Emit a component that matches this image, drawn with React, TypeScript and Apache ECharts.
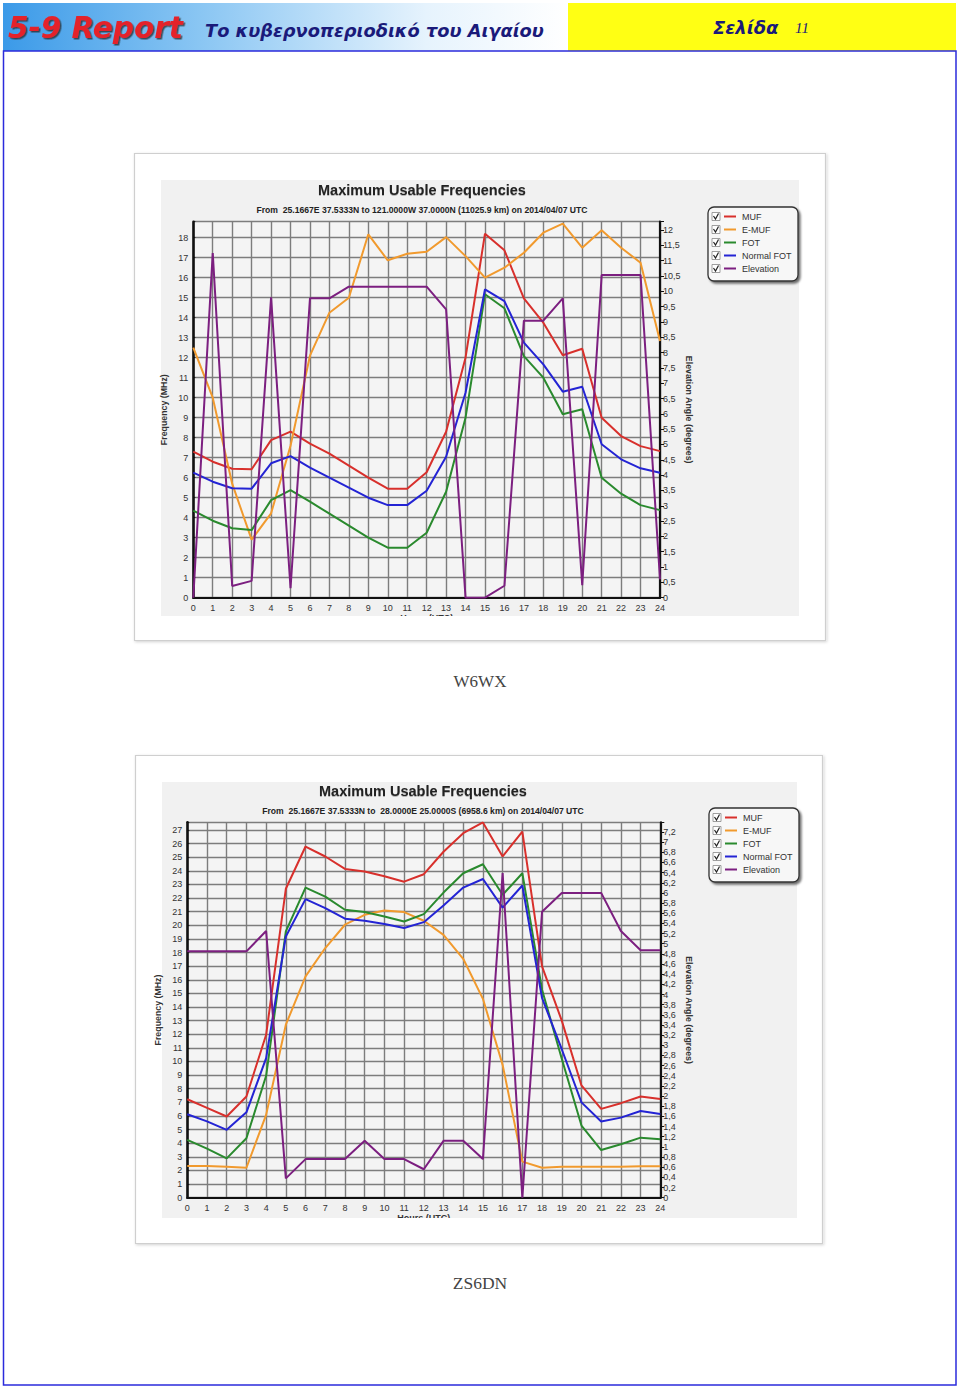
import React, { useEffect, useRef } from "react";
import * as echarts from "echarts";

// ---------- DATA ----------
const hours = [0, 1, 2, 3, 4, 5, 6, 7, 8, 9, 10, 11, 12, 13, 14, 15, 16, 17, 18, 19, 20, 21, 22, 23, 24];

// Chart 1: W6WX
const w6wxMuf = [7.3, 6.8, 6.45, 6.42, 7.88, 8.3, 7.7, 7.2, 6.6, 6.0, 5.45, 5.45, 6.27, 8.3, 12.0, 18.2, 17.37, 14.97, 13.75, 12.12, 12.45, 9.0, 8.08, 7.58, 7.33];
const w6wxEmuf = [12.5, 10.0, 5.7, 2.9, 4.22, 7.6, 12.1, 14.25, 15.0, 18.17, 16.87, 17.2, 17.3, 18.03, 17.08, 16.0, 16.5, 17.25, 18.25, 18.7, 17.5, 18.37, 17.5, 16.75, 12.83];
const w6wxFot = [4.35, 3.85, 3.47, 3.38, 4.88, 5.38, 4.8, 4.2, 3.6, 3.0, 2.5, 2.5, 3.25, 5.3, 9.0, 15.17, 14.47, 12.08, 11.0, 9.17, 9.42, 6.0, 5.2, 4.63, 4.38];
const w6wxNfot = [6.25, 5.8, 5.47, 5.45, 6.72, 7.08, 6.5, 6.0, 5.5, 5.0, 4.63, 4.63, 5.35, 7.05, 10.25, 15.42, 14.83, 12.75, 11.67, 10.3, 10.55, 7.67, 6.92, 6.47, 6.25];
const w6wxElev = [0, 11.25, 0.38, 0.55, 9.8, 0.31, 9.77, 9.77, 10.15, 10.15, 10.15, 10.15, 10.15, 9.41, 0, 0, 0.39, 9.04, 9.04, 9.77, 0.41, 10.53, 10.53, 10.53, 0.6];

// Chart 2: ZS6DN
const zs6dnMuf = [7.23, 6.6, 5.96, 7.43, 11.96, 22.68, 25.78, 25.05, 24.14, 23.95, 23.6, 23.2, 23.75, 25.4, 26.76, 27.55, 25.05, 26.88, 16.98, 13.0, 8.24, 6.52, 6.94, 7.43, 7.25];
const zs6dnEmuf = [2.33, 2.33, 2.28, 2.2, 6.08, 12.7, 16.25, 18.33, 20.04, 20.77, 21.09, 20.97, 20.33, 19.3, 17.54, 14.6, 9.75, 2.65, 2.2, 2.28, 2.28, 2.28, 2.28, 2.3, 2.3];
const zs6dnFot = [4.24, 3.6, 2.89, 4.36, 8.95, 19.55, 22.77, 22.1, 21.14, 20.97, 20.65, 20.28, 20.82, 22.4, 23.82, 24.48, 22.24, 23.82, 15.27, 10.2, 5.3, 3.5, 3.92, 4.41, 4.29];
const zs6dnNfot = [6.13, 5.6, 4.98, 6.27, 10.25, 19.18, 21.92, 21.26, 20.48, 20.33, 20.09, 19.8, 20.23, 21.45, 22.77, 23.4, 21.3, 22.92, 14.66, 10.9, 7.0, 5.59, 5.88, 6.37, 6.15];
const zs6dnElev = [4.85, 4.85, 4.85, 4.85, 5.25, 0.38, 0.76, 0.76, 0.76, 1.12, 0.76, 0.76, 0.56, 1.12, 1.12, 0.76, 6.39, 0, 5.63, 6.0, 6.0, 6.0, 5.25, 4.87, 4.87];

const seriesNames = ["MUF", "E-MUF", "FOT", "Normal FOT", "Elevation"];
const seriesColors = ["#d8302c", "#f19a2e", "#2a8a2e", "#2424d4", "#7c1f80"];

const chart1Title = "Maximum Usable Frequencies";
const chart1Sub = "From  25.1667E 37.5333N to 121.0000W 37.0000N (11025.9 km) on 2014/04/07 UTC";
const chart2Sub = "From  25.1667E 37.5333N to  28.0000E 25.0000S (6958.6 km) on 2014/04/07 UTC";

const FONT = "Liberation Sans, Arial, Helvetica, sans-serif";

function commaFmt(step: number) {
  return (v: number) => {
    const r = Math.round(v / step) * step;
    if (Math.abs(r - v) > 1e-6) return "";
    return String(Number(r.toFixed(2))).replace(".", ",");
  };
}

function legendGroup(x: number, y: number) {
  const children: any[] = [
    {
      type: "rect",
      shape: { x, y, width: 90, height: 74, r: 6 },
      style: {
        fill: "#f7f7f7",
        stroke: "#333",
        lineWidth: 1.3,
        shadowBlur: 2,
        shadowOffsetX: 2,
        shadowOffsetY: 2,
        shadowColor: "rgba(0,0,0,0.55)",
      },
    },
  ];
  seriesNames.forEach((name, i) => {
    const cy = y + 9.5 + i * 13;
    children.push({
      type: "rect",
      shape: { x: x + 4, y: cy - 4, width: 8, height: 8 },
      style: { fill: "#fff", stroke: "#888", lineWidth: 0.8 },
    });
    children.push({
      type: "polyline",
      shape: { points: [[x + 5.5, cy - 0.5], [x + 7.5, cy + 2.5], [x + 10.5, cy - 3]] },
      style: { stroke: "#222", lineWidth: 1.2, fill: "none" },
    });
    children.push({
      type: "line",
      shape: { x1: x + 16, y1: cy, x2: x + 28, y2: cy },
      style: { stroke: seriesColors[i], lineWidth: 2 },
    });
    children.push({
      type: "text",
      style: { text: name, x: x + 34, y: cy, verticalAlign: "middle", fontSize: 9, fontFamily: FONT, fill: "#333" },
    });
  });
  return { type: "group", children };
}

function makeSeries(gridIdx: number, arrs: number[][]) {
  return arrs.map((arr, i) => ({
    name: seriesNames[i] + (gridIdx === 0 ? "" : " "),
    type: "line",
    xAxisIndex: gridIdx,
    yAxisIndex: gridIdx * 2 + (i === 4 ? 1 : 0),
    data: hours.map((h, k) => [h, arr[k]]),
    showSymbol: false,
    symbol: "none",
    lineStyle: { color: seriesColors[i], width: 2 },
    itemStyle: { color: seriesColors[i] },
    z: 3,
  }));
}

const gridLine = { show: true, lineStyle: { color: "#7d7d7d", width: 1.4 } };
const labelStyle = { fontSize: 9, color: "#333", fontFamily: FONT };
const nameStyle = { fontSize: 8.8, fontWeight: "bold", color: "#333", fontFamily: FONT };

function xAxisCfg(gridIndex: number) {
  return {
    type: "value",
    gridIndex,
    min: 0,
    max: 24,
    interval: 1,
    axisLine: { show: true, lineStyle: { color: "#111", width: 2.2 } },
    axisTick: { show: false },
    splitLine: gridLine,
    axisLabel: { ...labelStyle, margin: 6 },
    name: "Hours (UTC)",
    nameLocation: "middle",
    nameGap: 16,
    nameTextStyle: { ...nameStyle, fontSize: 9 },
  };
}

function leftAxisCfg(gridIndex: number, max: number) {
  return {
    type: "value",
    gridIndex,
    position: "left",
    min: 0,
    max,
    interval: 1,
    axisLine: { show: true, lineStyle: { color: "#111", width: 2.6 } },
    axisTick: { show: true, inside: true, length: 2, lineStyle: { color: "#111" } },
    splitLine: gridLine,
    axisLabel: { ...labelStyle, margin: 5, formatter: (v: number) => (Math.abs(v - Math.round(v)) > 1e-6 ? "" : String(Math.round(v))) },
    name: "Frequency (MHz)",
    nameLocation: "middle",
    nameRotate: 90,
    nameGap: 25,
    nameTextStyle: nameStyle,
  };
}

function rightAxisCfg(gridIndex: number, max: number, step: number) {
  return {
    type: "value",
    gridIndex,
    position: "right",
    min: 0,
    max,
    interval: step,
    axisLine: { show: true, lineStyle: { color: "#111", width: 2.2 } },
    axisTick: { show: true, length: 4, lineStyle: { color: "#111" } },
    splitLine: { show: false },
    axisLabel: { ...labelStyle, margin: 3, formatter: commaFmt(step) },
    name: "Elevation Angle (degrees)",
    nameLocation: "middle",
    nameRotate: -90,
    nameGap: 24,
    nameTextStyle: nameStyle,
  };
}

function headerGraphics() {
  return [
    {
      type: "rect",
      z: -20,
      shape: { x: 3, y: 3, width: 565, height: 48 },
      style: {
        fill: {
          type: "linear",
          x: 0, y: 0, x2: 1, y2: 0,
          colorStops: [
            { offset: 0, color: "#3b9ae8" },
            { offset: 0.35, color: "#8ac6f3" },
            { offset: 0.75, color: "#e6f3fd" },
            { offset: 1, color: "#ffffff" },
          ],
        },
      },
    },
    { type: "rect", z: -20, shape: { x: 568, y: 3, width: 388, height: 48 }, style: { fill: "#ffff14" } },
    {
      type: "text",
      style: {
        text: "5-9 Report", x: 8, y: 28, verticalAlign: "middle",
        fontSize: 29.5, fontWeight: "bold", fontStyle: "italic", fontFamily: "DejaVu Sans, Verdana, sans-serif",
        fill: "#e4232b", textShadowColor: "rgba(40,40,40,0.75)", textShadowOffsetX: 1.5, textShadowOffsetY: 1.5, textShadowBlur: 1,
      },
    },
    {
      type: "text",
      style: {
        text: "Το κυβερνοπεριοδικό του Αιγαίου", x: 205, y: 30, verticalAlign: "middle",
        fontSize: 17.8, fontWeight: "bold", fontStyle: "italic", fontFamily: "DejaVu Sans, Verdana, sans-serif", fill: "#1a1a7a",
      },
    },
    {
      type: "text",
      style: {
        text: "Σελίδα", x: 713, y: 27, verticalAlign: "middle",
        fontSize: 18, fontWeight: "bold", fontStyle: "italic", fontFamily: "DejaVu Sans, Verdana, sans-serif", fill: "#1a1a7a",
      },
    },
    {
      type: "text",
      style: {
        text: "11", x: 795, y: 28, verticalAlign: "middle",
        fontSize: 15, fontStyle: "italic", fontFamily: "Liberation Serif, Times New Roman, serif", fill: "#1a1a7a",
      },
    },
    {
      type: "rect", z: 50,
      shape: { x: 3.5, y: 51, width: 952.5, height: 1334 },
      style: { fill: "none", stroke: "#2b2bdc", lineWidth: 1.5 },
    },
  ];
}

function chartFrame(fx: number, fy: number, fw: number, fh: number, ix: number, iy: number, iw: number, ih: number) {
  return [
    {
      type: "rect", z: -15,
      shape: { x: fx, y: fy, width: fw, height: fh },
      style: { fill: "#ffffff", stroke: "#cfcfcf", lineWidth: 1.2, shadowBlur: 3, shadowColor: "rgba(0,0,0,0.18)", shadowOffsetX: 1, shadowOffsetY: 1 },
    },
    { type: "rect", z: -14, shape: { x: ix, y: iy, width: iw, height: ih }, style: { fill: "#f1f1f1" } },
    { type: "rect", z: 100, shape: { x: ix - 1, y: iy + ih, width: iw + 2, height: 20 }, style: { fill: "#ffffff" } },
  ];
}

function titleTexts(cx: number, ty: number, sub: string) {
  return [
    {
      type: "text",
      style: {
        text: chart1Title, x: cx, y: ty, align: "center", verticalAlign: "middle",
        fontSize: 14.5, fontWeight: "bold", fontFamily: FONT, fill: "#222",
        textShadowColor: "rgba(0,0,0,0.25)", textShadowOffsetY: 1, textShadowBlur: 1.5,
      },
    },
    {
      type: "text",
      style: {
        text: sub, x: cx, y: ty + 20, align: "center", verticalAlign: "middle",
        fontSize: 8.6, fontWeight: "bold", fontFamily: FONT, fill: "#222",
      },
    },
  ];
}

export default function App() {
  const ref = useRef<HTMLDivElement>(null);
  useEffect(() => {
    if (!ref.current) return;
    const chart = echarts.init(ref.current, null, { renderer: "svg" });
    const option: any = {
      animation: false,
      backgroundColor: "#ffffff",
      grid: [
        { left: 193.3, top: 221.7, width: 466.7, height: 376, show: true, backgroundColor: "#f4f4f4", borderWidth: 0 },
        { left: 187.3, top: 822.3, width: 473, height: 375.4, show: true, backgroundColor: "#f4f4f4", borderWidth: 0 },
      ],
      xAxis: [xAxisCfg(0), xAxisCfg(1)],
      yAxis: [leftAxisCfg(0, 18.8), rightAxisCfg(0, 12.27, 0.5), leftAxisCfg(1, 27.56), rightAxisCfg(1, 7.39, 0.2)],
      series: [
        ...makeSeries(0, [w6wxMuf, w6wxEmuf, w6wxFot, w6wxNfot, w6wxElev]),
        ...makeSeries(1, [zs6dnMuf, zs6dnEmuf, zs6dnFot, zs6dnNfot, zs6dnElev]),
      ],
      graphic: {
        elements: [
          ...headerGraphics(),
          ...chartFrame(134.5, 153.5, 691, 487, 161, 180, 638, 436),
          ...chartFrame(135.5, 755.5, 687, 488, 162, 782, 635, 436),
          ...titleTexts(422, 190, chart1Sub),
          ...titleTexts(423, 791, chart2Sub),
          legendGroup(708, 207),
          legendGroup(709, 808),
          {
            type: "text",
            style: { text: "W6WX", x: 480, y: 681, align: "center", verticalAlign: "middle", fontSize: 17, fontFamily: "Liberation Serif, Times New Roman, serif", fill: "#444" },
          },
          {
            type: "text",
            style: { text: "ZS6DN", x: 480, y: 1283, align: "center", verticalAlign: "middle", fontSize: 17.5, fontFamily: "Liberation Serif, Times New Roman, serif", fill: "#444" },
          },
        ],
      },
    };
    chart.setOption(option);
    return () => chart.dispose();
  }, []);
  return <div ref={ref} style={{ position: "absolute", left: 0, top: 0, width: 960, height: 1387 }} />;
}
